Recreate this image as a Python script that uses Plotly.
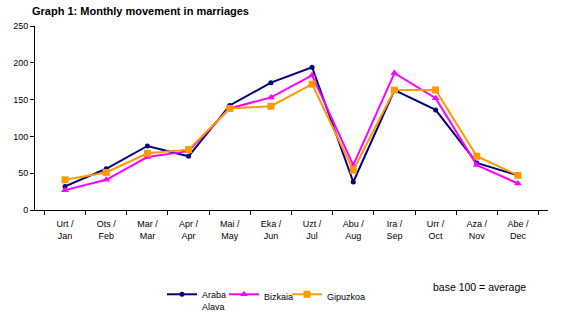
import plotly.graph_objects as go

months = ["Urt /<br>Jan", "Ots /<br>Feb", "Mar /<br>Mar", "Apr /<br>Apr", "Mai /<br>May", "Eka /<br>Jun",
          "Uzt /<br>Jul", "Abu /<br>Aug", "Ira /<br>Sep", "Urr /<br>Oct", "Aza /<br>Nov", "Abe /<br>Dec"]
araba = [32, 56, 87, 73, 142, 173, 194, 38, 163, 136, 64, 47]
bizkaia = [27, 41, 72, 80, 138, 153, 183, 61, 186, 152, 61, 36]
gipuzkoa = [41, 51, 77, 82, 138, 141, 171, 54, 163, 163, 73, 47]

FONT = "Liberation Sans, Arial, sans-serif"

fig = go.Figure()
fig.add_trace(go.Scatter(x=months, y=araba, name="Araba<br>Alava", mode="lines+markers",
                         line=dict(color="#000080", width=2), legend="legend",
                         marker=dict(symbol="circle", size=5, color="#000080")))
fig.add_trace(go.Scatter(x=months, y=bizkaia, name="Bizkaia", mode="lines+markers",
                         line=dict(color="#FF00FF", width=2), legend="legend2",
                         marker=dict(symbol="triangle-up", size=7, color="#FF00FF")))
fig.add_trace(go.Scatter(x=months, y=gipuzkoa, name="Gipuzkoa", mode="lines+markers",
                         line=dict(color="#FF9900", width=2), legend="legend3",
                         marker=dict(symbol="square", size=7, color="#FF9900")))

def leg(x):
    return dict(orientation="h", x=x, xanchor="left", y=-0.391, yanchor="top",
                font=dict(size=9), valign="top", bgcolor="rgba(0,0,0,0)")

fig.update_layout(
    width=567, height=322,
    margin=dict(l=35, r=19, t=26, b=112, autoexpand=False),
    paper_bgcolor="white", plot_bgcolor="white",
    font=dict(family=FONT, size=9, color="black"),
    showlegend=True,
    legend=leg(0.2476), legend2=leg(0.3684), legend3=leg(0.4912),
    xaxis=dict(type="category", showline=True, linecolor="black", linewidth=1,
               ticks="outside", ticklen=4, tickcolor="black", tickson="boundaries",
               showgrid=False, zeroline=False, tickfont=dict(size=9),
               ticklabelstandoff=5),
    yaxis=dict(range=[0, 250], dtick=50, showline=True, linecolor="black", linewidth=1,
               ticks="outside", ticklen=4, tickcolor="black", showgrid=False,
               zeroline=False, tickfont=dict(size=9)),
    annotations=[
        dict(text="<b>Graph 1: Monthly movement in marriages</b>", xref="paper", yref="paper",
             x=-0.01, y=1.0, xanchor="left", yanchor="bottom", yshift=7, showarrow=False,
             font=dict(size=11, family=FONT)),
        dict(text="base 100 = average", xref="paper", yref="paper",
             x=0.772, y=-0.377, xanchor="left", yanchor="top", showarrow=False,
             font=dict(size=10.5, family=FONT)),
    ],
)

fig.write_html("out.html")
